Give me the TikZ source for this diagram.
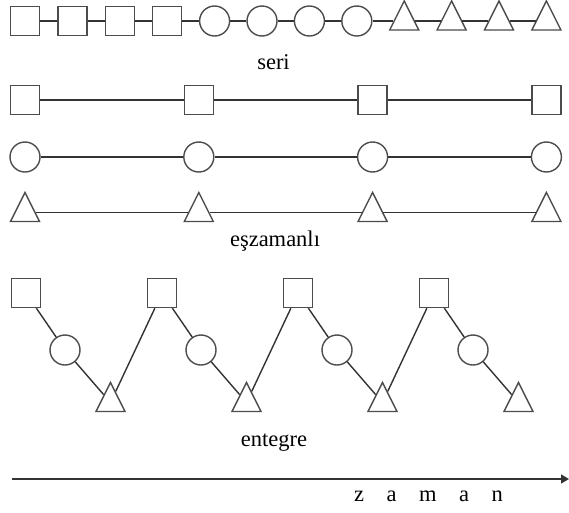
\documentclass[tikz,border=0pt]{standalone}
\usepackage{fontspec}
\setmainfont{Liberation Serif}
\usetikzlibrary{shapes.geometric,arrows.meta}

\begin{document}
\begin{tikzpicture}[x=1pt,y=-1pt,
  ink/.style={draw=black!70, line width=1.4pt},
  sq/.style={ink, rectangle, minimum size=29pt, inner sep=0pt},
  ci/.style={ink, circle, minimum size=30pt, inner sep=0pt},
  tri/.style={ink, isosceles triangle, shape border rotate=90,
              isosceles triangle stretches, minimum width=29pt,
              minimum height=29pt, inner sep=0pt},
  link/.style={draw=black!80, line width=1.4pt},
  lbl/.style={font=\fontsize{22.5}{27}\selectfont, inner sep=0pt, anchor=base}]

\useasboundingbox (0,0) rectangle (569,512);

% --- seri: four squares, four circles, four triangles in one chain
\foreach \i in {0,...,3} {
  \node[sq]  (a\i) at ({25+47.4*\i},21) {};
}
\foreach \i in {4,...,7} {
  \node[ci]  (a\i) at ({25+47.4*\i},21) {};
}
\foreach \i in {8,...,11} {
  \node[tri] (a\i) at ({25+47.4*\i},21) {};
}
\foreach \i [evaluate=\i as \j using int(\i+1)] in {0,...,10} {
  \draw[link] (a\i) -- (a\j);
}
\node[lbl] (seri) at (273.5,69) {seri};

% --- eşzamanlı: three parallel lines
\foreach \i in {0,...,3} {
  \node[sq]  (b\i) at ({25+173.8*\i},100) {};
  \node[ci]  (c\i) at ({25+173.8*\i},157) {};
  \node[tri] (d\i) at ({25+173.8*\i},212.5) {};
}
\foreach \i [evaluate=\i as \j using int(\i+1)] in {0,...,2} {
  \draw[link] (b\i) -- (b\j);
  \draw[link] (c\i) -- (c\j);
  \draw[link] (d\i) -- (d\j);
}
\node[lbl] (eszamanli) at (275,246.5) {eşzamanlı};

% --- entegre: zig-zag square -> circle -> triangle -> next square
\foreach \i in {0,...,3} {
  \node[sq]  (e\i) at ({26+136*\i},293) {};
  \node[ci]  (f\i) at ({65+136*\i},350) {};
  \node[tri] (g\i) at ({110.5+136*\i},402.5) {};
  \draw[link] (e\i) -- (f\i);
  \draw[link] (f\i) -- (g\i);
}
\foreach \i [evaluate=\i as \j using int(\i+1)] in {0,...,2} {
  \draw[link] (g\i) -- (e\j);
}
\node[lbl] (entegre) at (274,446) {entegre};

% --- time axis
\coordinate (t0) at (12,479);
\coordinate (t1) at (569,479);
\draw[link, -{Triangle[length=8pt,width=9pt]}] (t0) -- (t1);
\node[lbl] (zaman) at (428.5,501.5) {z\quad a\quad m\quad a\quad n};

\end{tikzpicture}
\end{document}
